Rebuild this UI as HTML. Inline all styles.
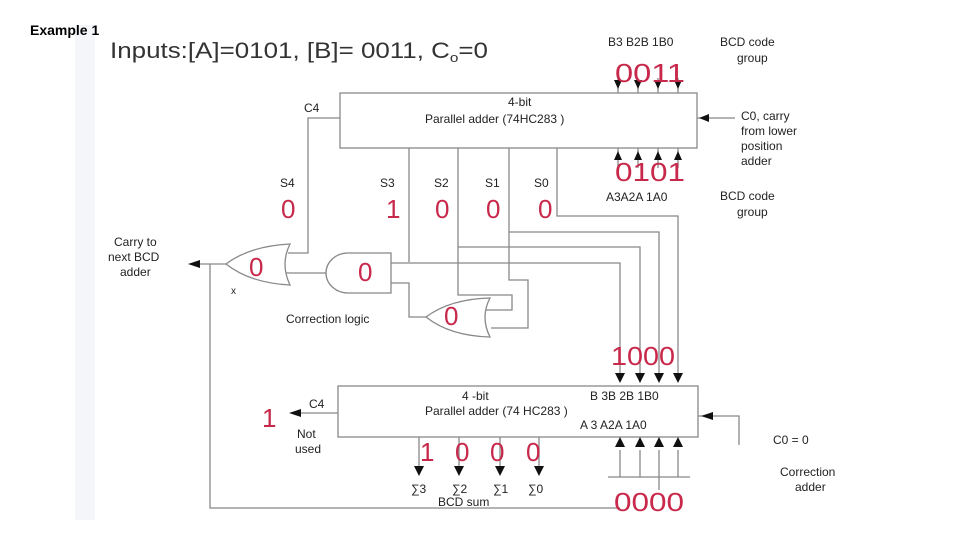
<!DOCTYPE html>
<html><head><meta charset="utf-8"><style>
body{margin:0;background:#fff;width:960px;height:540px;overflow:hidden}
svg{display:block}
text{font-family:"Liberation Sans",sans-serif}
.l{font-size:12px;fill:#222}
.r{font-size:26px;fill:#c8284a}
</style></head><body>
<svg width="960" height="540" viewBox="0 0 960 540">
<rect x="75" y="25" width="810" height="495" fill="#fff"/>
<rect x="75" y="25" width="20" height="495" fill="#f4f6fa"/>
<text x="30" y="35" font-size="14" fill="#000" font-weight="bold">Example 1</text>
<text x="110" y="58" font-size="22" fill="#333" textLength="378" lengthAdjust="spacingAndGlyphs">Inputs:[A]=0101, [B]= 0011, C<tspan font-size="13" dy="4">o</tspan><tspan dy="-4">=0</tspan></text>
<g stroke="#888" stroke-width="1.3" fill="none">
<rect x="340" y="93" width="357" height="55"/>
<rect x="338" y="386" width="360" height="51"/>
<polyline points="340,118 308,118 308,253 288,253"/>
<polyline points="409,148 409,262"/>
<polyline points="391,263 620,263 620,375"/>
<polyline points="458,148 458,295 512,295 512,310 483,310"/>
<polyline points="458,247 640,247 640,375"/>
<polyline points="509,148 509,280 528,280 528,328 491,328"/>
<polyline points="509,232 659,232 659,375"/>
<polyline points="557,148 557,216 678,216 678,375"/>
<polyline points="391,283 409,283 409,317 426,317"/>
<line x1="326" y1="273" x2="286" y2="273"/>
<polyline points="226,264 200,264"/>
<polyline points="210,264 210,508 620,508"/>
<path d="M226,264 Q250,246 290,244 Q280,264 290,285 Q250,283 226,264 Z" fill="#fff"/>
<path d="M391,253 L348,253 A22,20 0 0 0 348,293 L391,293 Z" fill="#fff"/>
<path d="M426,317 Q450,299 490,298 Q480,317 490,337 Q450,336 426,317 Z" fill="#fff"/>
<line x1="618" y1="78" x2="618" y2="93"/><line x1="638" y1="78" x2="638" y2="93"/><line x1="658" y1="78" x2="658" y2="93"/><line x1="678" y1="78" x2="678" y2="93"/>
<line x1="618" y1="148" x2="618" y2="168"/><line x1="638" y1="148" x2="638" y2="168"/><line x1="658" y1="148" x2="658" y2="168"/><line x1="678" y1="148" x2="678" y2="168"/>
<line x1="697" y1="118" x2="735" y2="118"/>
<line x1="338" y1="413" x2="300" y2="413"/>
<line x1="419" y1="437" x2="419" y2="468"/><line x1="459" y1="437" x2="459" y2="468"/><line x1="500" y1="437" x2="500" y2="468"/><line x1="539" y1="437" x2="539" y2="468"/>
<line x1="620" y1="450" x2="620" y2="477"/><line x1="640" y1="450" x2="640" y2="477"/><line x1="659" y1="450" x2="659" y2="490"/><line x1="678" y1="450" x2="678" y2="477"/>
<line x1="608" y1="477" x2="690" y2="477"/>
<polyline points="698,416 739,416 739,445"/>
</g>
<g fill="#111">
<path d="M614,80h8l-4,9z M634,80h8l-4,9z M654,80h8l-4,9z M674,80h8l-4,9z"/>
<path d="M614,160h8l-4,-9z M634,160h8l-4,-9z M654,160h8l-4,-9z M674,160h8l-4,-9z"/>
<path d="M699,118l10,-4v8z"/>
<path d="M188,264l12,-4v8z"/>
<path d="M615,373h10l-5,10z M635,373h10l-5,10z M654,373h10l-5,10z M673,373h10l-5,10z"/>
<path d="M615,447h10l-5,-10z M635,447h10l-5,-10z M654,447h10l-5,-10z M673,447h10l-5,-10z"/>
<path d="M414,466h10l-5,10z M454,466h10l-5,10z M495,466h10l-5,10z M534,466h10l-5,10z"/>
<path d="M289,413l12,-4v8z"/>
<path d="M701,416l12,-4v8z"/>
</g>
<g class="l">
<text x="508" y="106">4-bit</text>
<text x="425" y="123">Parallel adder  (74HC283 )</text>
<text x="608" y="46">B3 B2B 1B0</text>
<text x="720" y="46">BCD code</text><text x="737" y="62">group</text>
<text x="741" y="120">C0, carry</text><text x="741" y="135">from lower</text><text x="741" y="150">position</text><text x="741" y="165">adder</text>
<text x="606" y="201">A3A2A 1A0</text>
<text x="720" y="200">BCD code</text><text x="737" y="216">group</text>
<text x="304" y="112">C4</text>
<text x="280" y="187">S4</text><text x="380" y="187">S3</text><text x="434" y="187">S2</text><text x="485" y="187">S1</text><text x="534" y="187">S0</text>
<text x="114" y="246">Carry to</text><text x="108" y="261">next BCD</text><text x="120" y="276">adder</text>
<text x="231" y="294" font-size="10">x</text>
<text x="286" y="323">Correction logic</text>
<text x="462" y="400">4  -bit</text>
<text x="425" y="415">Parallel  adder  (74 HC283 )</text>
<text x="590" y="400">B   3B 2B 1B0</text>
<text x="580" y="429">A     3 A2A 1A0</text>
<text x="309" y="408">C4</text>
<text x="297" y="438">Not</text><text x="295" y="453">used</text>
<text x="773" y="444">C0 = 0</text>
<text x="780" y="476">Correction</text><text x="795" y="491">adder</text>
<text x="411" y="493">∑3</text><text x="452" y="493">∑2</text><text x="493" y="493">∑1</text><text x="528" y="493">∑0</text>
<text x="438" y="506">BCD sum</text>
</g>
<g class="r">
<text x="615" y="82" textLength="70" lengthAdjust="spacingAndGlyphs">0011</text>
<text x="615" y="181" textLength="70" lengthAdjust="spacingAndGlyphs">0101</text>
<text x="281" y="218">0</text><text x="386" y="218">1</text><text x="435" y="218">0</text><text x="486" y="218">0</text><text x="538" y="218">0</text>
<text x="249" y="276">0</text><text x="358" y="281">0</text><text x="444" y="325">0</text>
<text x="611" y="365" textLength="64" lengthAdjust="spacingAndGlyphs">1000</text>
<text x="262" y="427">1</text>
<text x="420" y="461">1</text><text x="455" y="461">0</text><text x="490" y="461">0</text><text x="526" y="461">0</text>
<text x="614" y="511" textLength="70" lengthAdjust="spacingAndGlyphs">0000</text>
</g>
</svg>
</body></html>
